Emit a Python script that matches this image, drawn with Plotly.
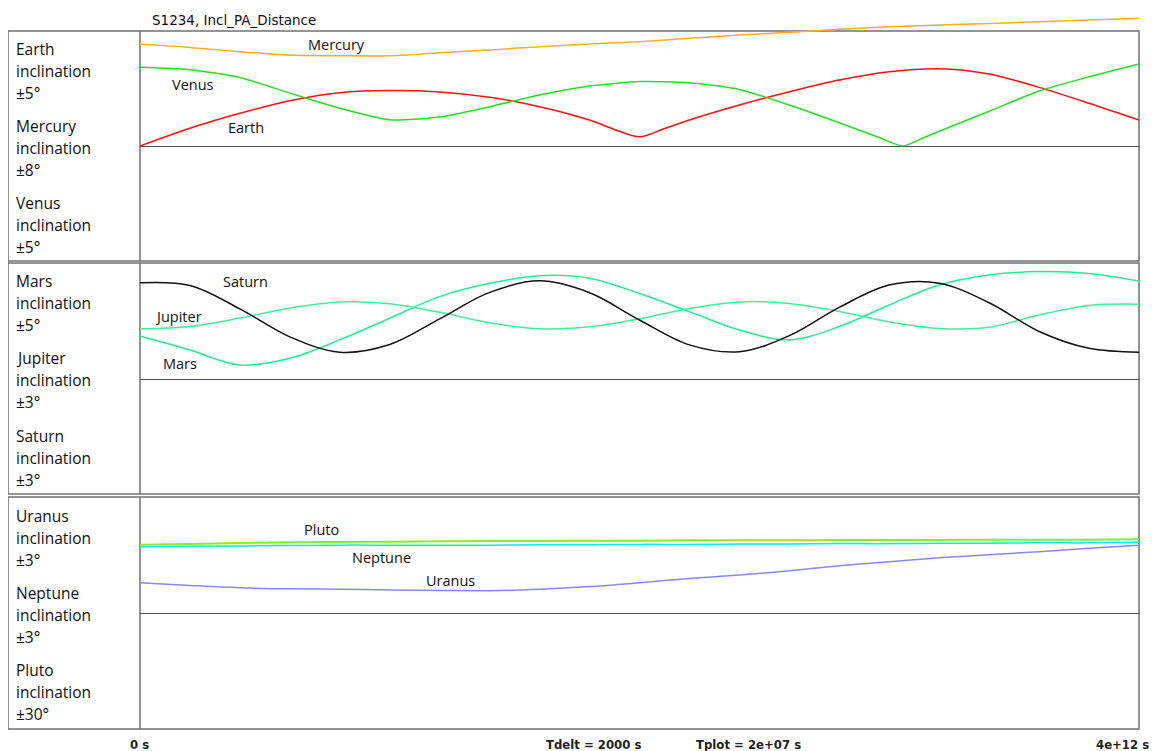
import plotly.graph_objects as go

# ---------------- data ----------------
# time in seconds (0 .. 4e12 s), 21 samples
time_s = [i * 0.2e12 for i in range(21)]

# inclinations in degrees
earth_time_s = [0.0, 0.2e12, 0.4e12, 0.6e12, 0.8e12, 1.0e12, 1.2e12, 1.4e12, 1.6e12,
                1.8e12, 1.9e12, 2.0e12, 2.1e12, 2.2e12, 2.4e12, 2.6e12, 2.8e12, 3.0e12,
                3.2e12, 3.4e12, 3.6e12, 3.8e12, 4.0e12]
earth = [0.0, 0.77, 1.42, 1.97, 2.32, 2.41, 2.35, 2.12, 1.71, 1.13, 0.72, 0.40,
         0.76, 1.13, 1.78, 2.36, 2.87, 3.23, 3.36, 3.13, 2.55, 1.86, 1.13]
venus_time_s = [0.0, 0.2e12, 0.4e12, 0.6e12, 0.8e12, 1.0e12, 1.2e12, 1.4e12, 1.6e12,
                1.8e12, 2.0e12, 2.2e12, 2.4e12, 2.6e12, 2.8e12, 2.96e12, 3.054e12,
                3.14e12, 3.2e12, 3.4e12, 3.6e12, 3.8e12, 4.0e12]
venus = [3.42, 3.32, 2.98, 2.30, 1.64, 1.14, 1.26, 1.71, 2.22, 2.61, 2.80,
         2.75, 2.46, 1.78, 1.01, 0.37, 0.0, 0.37, 0.64, 1.51, 2.39, 3.01, 3.57]
mercury = [7.07, 6.86, 6.56, 6.33, 6.28, 6.28, 6.49, 6.68, 6.91, 7.10, 7.26,
           7.49, 7.72, 7.91, 8.12, 8.30, 8.42, 8.53, 8.65, 8.77, 8.88]

mars = [1.87, 1.26, 0.61, 0.90, 1.70, 2.64, 3.58, 4.16, 4.49, 4.38, 3.72,
        2.93, 2.13, 1.70, 2.28, 3.22, 4.09, 4.52, 4.67, 4.59, 4.26]
jupiter = [1.31, 1.37, 1.59, 1.85, 2.01, 1.96, 1.74, 1.47, 1.31, 1.36, 1.57,
           1.84, 2.01, 1.97, 1.76, 1.49, 1.32, 1.35, 1.67, 1.92, 1.95]
saturn = [2.51, 2.44, 1.83, 1.10, 0.70, 0.90, 1.57, 2.26, 2.56, 2.25, 1.54,
          0.89, 0.71, 1.13, 1.87, 2.45, 2.50, 1.99, 1.24, 0.80, 0.70]

uranus = [0.79, 0.72, 0.66, 0.63, 0.62, 0.60, 0.59, 0.58, 0.62, 0.69, 0.79,
          0.90, 0.99, 1.10, 1.23, 1.34, 1.44, 1.52, 1.60, 1.69, 1.77]
neptune = [1.73, 1.74, 1.75, 1.76, 1.77, 1.77, 1.77, 1.77, 1.78, 1.78, 1.79,
           1.79, 1.80, 1.80, 1.81, 1.81, 1.82, 1.82, 1.83, 1.83, 1.85]
pluto = [17.83, 18.00, 18.26, 18.43, 18.52, 18.61, 18.70, 18.78, 18.78, 18.87, 18.87,
         18.96, 18.96, 18.96, 19.04, 19.04, 19.04, 19.13, 19.13, 19.13, 19.22]

panel_labels = [
    [("Earth", "±5°"), ("Mercury", "±8°"), ("Venus", "±5°")],
    [("Mars", "±5°"), ("Jupiter", "±3°"), ("Saturn", "±3°")],
    [("Uranus", "±3°"), ("Neptune", "±3°"), ("Pluto", "±30°")],
]

title_text = "S1234, Incl_PA_Distance"
bottom_texts = ["0 s", "Tdelt = 2000 s", "Tplot = 2e+07 s", "4e+12 s"]

# ---------------- layout geometry ----------------
# the page places the figure 8px from the top-left corner of the window
OFF = 8
W, H = 1166 - OFF, 751 - OFF
def py(p):  # window pixel row -> paper y
    return 1 - (p - OFF) / H
def px(p):  # window pixel column -> paper x
    return (p - OFF) / W

x_dom = [px(140), px(1139)]
p1 = [py(261), py(31)]
p2 = [py(494), py(264)]
p3 = [py(728), py(498)]

FONT = "Open Sans, Noto Sans, sans-serif"

fig = go.Figure()

def add(x, y, yaxis, color, width=1.5, shape="spline", smoothing=1.0):
    line = dict(color=color, width=width, shape=shape)
    if shape == "spline":
        line["smoothing"] = smoothing
    fig.add_trace(go.Scatter(x=x, y=y, xaxis="x", yaxis=yaxis, mode="lines",
                             line=line, hoverinfo="skip", showlegend=False))

add(time_s, mercury, "y3", "#FFB020")
add(earth_time_s, earth, "y", "#FF1010", smoothing=0.9)
add(venus_time_s, venus, "y2", "#22E022", smoothing=0.6)
add(time_s, mars, "y4", "#22EE90")
add(time_s, jupiter, "y5", "#44EE99")
add(time_s, saturn, "y6", "#111111")
add(time_s, uranus, "y7", "#8888FF")
add(time_s, pluto, "y9", "#88EE22", width=2)
add(time_s, neptune, "y8", "#00EEEE")

hidden = dict(showgrid=False, showticklabels=False, ticks="", showline=False)

def base_axis(dom, r):
    return dict(domain=dom, range=[-r, r], anchor="x", zeroline=True,
                zerolinecolor="#505050", zerolinewidth=1, **hidden)

def over_axis(base, r):
    return dict(overlaying=base, range=[-r, r], anchor="x", zeroline=False, **hidden)

fig.update_layout(
    width=W, height=H,
    margin=dict(l=0, r=0, t=0, b=0),
    paper_bgcolor="white", plot_bgcolor="rgba(0,0,0,0)",
    xaxis=dict(domain=x_dom, range=[0, 4e12], anchor="y", zeroline=False, **hidden),
    yaxis=base_axis(p1, 5),
    yaxis2=over_axis("y", 5),
    yaxis3=dict(domain=[p1[0], 1.0], range=[-8, 8 * (146 - OFF) / 115], anchor="x",
                zeroline=False, **hidden),
    yaxis4=base_axis(p2, 5),
    yaxis5=over_axis("y4", 3),
    yaxis6=over_axis("y4", 3),
    yaxis7=base_axis(p3, 3),
    yaxis8=over_axis("y7", 3),
    yaxis9=over_axis("y7", 30),
)

# panel frames
shapes = []
for top, bot in [(31, 261), (263, 494), (497, 729)]:
    shapes.append(dict(type="rect", xref="paper", yref="paper",
                       x0=px(8), x1=px(1139), y0=py(bot), y1=py(top),
                       line=dict(color="#707070", width=1.5), layer="below"))
    shapes.append(dict(type="line", xref="paper", yref="paper",
                       x0=px(140), x1=px(140), y0=py(bot), y1=py(top),
                       line=dict(color="#707070", width=1.5), layer="below"))
fig.update_layout(shapes=shapes)

ann = []
label_rows = [[49, 126, 203], [281, 358, 436], [516, 593, 670]]
for panel, rows in zip(panel_labels, label_rows):
    for (name, rng), y0 in zip(panel, rows):
        for i, t in enumerate([name, "inclination", rng]):
            ann.append(dict(text=t, x=px(14), y=py(y0 + i * 22), xref="paper", yref="paper",
                            xanchor="left", yanchor="middle", showarrow=False,
                            font=dict(family=FONT, size=15.5, color="#111")))

curve_labels = [("Mercury", 336, 44), ("Venus", 193, 85), ("Earth", 246, 127),
                ("Saturn", 245, 281), ("Jupiter", 178, 316), ("Mars", 180, 363),
                ("Pluto", 321, 529), ("Neptune", 381, 557), ("Uranus", 450, 580)]
for t, x0, y0 in curve_labels:
    ann.append(dict(text=t, x=px(x0), y=py(y0), xref="paper", yref="paper",
                    xanchor="center", yanchor="middle", showarrow=False,
                    font=dict(family=FONT, size=14.5, color="#111")))

ann.append(dict(text=title_text, x=px(150), y=py(20), xref="paper", yref="paper",
                xanchor="left", yanchor="middle", showarrow=False,
                font=dict(family="DejaVu Sans, sans-serif", size=13.5, color="#111")))

BFONT = "Liberation Sans Narrow, DejaVu Sans Condensed, sans-serif"
for t, x0 in zip(bottom_texts, [139, 593, 748, 1122]):
    ann.append(dict(text="<b>" + t + "</b>", x=px(x0), y=py(744), xref="paper", yref="paper",
                    xanchor="center", yanchor="middle", showarrow=False,
                    font=dict(family=BFONT, size=13, color="#222")))

fig.update_layout(annotations=ann)
fig.write_html("out.html")
